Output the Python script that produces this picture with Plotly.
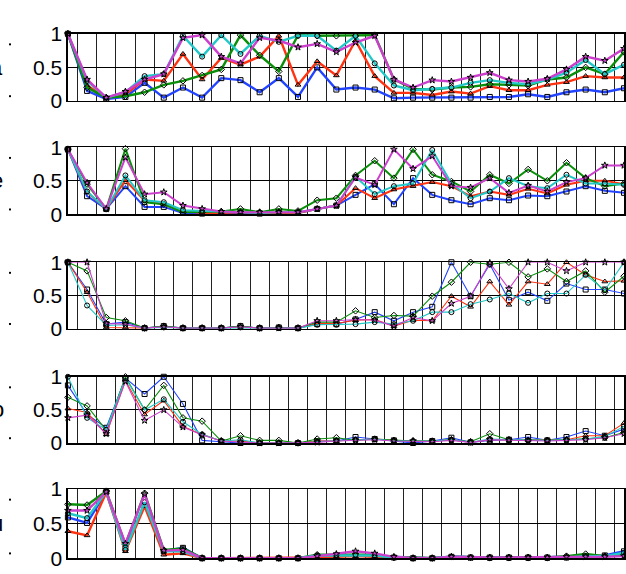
import plotly.graph_objects as go

W, H = 626, 574
x = list(range(1, 31))
panel_labels = ["a", "e", "i", "o", "u"]
y_tick_vals = [0, 0.5, 1]
y_tick_text = ["0", "0.5", "1"]
grid_x = [k + 0.5 for k in range(1, 30)]

# ---- panel 1 (a)
a_blue = [1.0, 0.15, 0.03, 0.06, 0.27, 0.05, 0.2, 0.05, 0.34, 0.31, 0.13, 0.34, 0.06, 0.5, 0.17, 0.2, 0.17, 0.04, 0.05, 0.05, 0.05, 0.05, 0.06, 0.06, 0.1, 0.06, 0.13, 0.17, 0.13, 0.19]
a_red = [1.0, 0.23, 0.05, 0.1, 0.32, 0.3, 0.7, 0.32, 0.64, 0.54, 0.66, 0.97, 0.24, 0.59, 0.38, 0.9, 0.37, 0.12, 0.12, 0.09, 0.14, 0.11, 0.22, 0.16, 0.16, 0.24, 0.28, 0.37, 0.35, 0.35]
a_green = [1.0, 0.2, 0.05, 0.07, 0.13, 0.24, 0.3, 0.38, 0.47, 0.98, 0.68, 0.44, 0.98, 0.97, 0.97, 0.97, 0.98, 0.32, 0.18, 0.17, 0.2, 0.21, 0.25, 0.24, 0.23, 0.32, 0.35, 0.5, 0.4, 0.73]
a_cyan = [1.0, 0.3, 0.05, 0.13, 0.37, 0.4, 0.97, 0.66, 0.98, 0.7, 0.97, 0.88, 0.97, 0.97, 0.75, 0.97, 0.56, 0.23, 0.16, 0.18, 0.2, 0.27, 0.31, 0.27, 0.25, 0.32, 0.42, 0.61, 0.4, 0.54]
a_magenta = [1.0, 0.32, 0.05, 0.14, 0.32, 0.4, 0.94, 0.98, 0.66, 0.56, 0.94, 0.9, 0.8, 0.85, 0.73, 0.87, 0.97, 0.32, 0.2, 0.31, 0.29, 0.35, 0.42, 0.31, 0.29, 0.33, 0.47, 0.66, 0.6, 0.78]

# ---- panel 2 (e)
e_blue = [0.97, 0.27, 0.08, 0.42, 0.11, 0.11, 0.02, 0.01, 0.02, 0.02, 0.01, 0.02, 0.02, 0.08, 0.13, 0.29, 0.45, 0.15, 0.54, 0.29, 0.21, 0.15, 0.24, 0.21, 0.28, 0.27, 0.34, 0.42, 0.35, 0.32]
e_red = [0.97, 0.33, 0.08, 0.51, 0.2, 0.15, 0.05, 0.02, 0.02, 0.03, 0.02, 0.02, 0.02, 0.08, 0.13, 0.39, 0.24, 0.37, 0.42, 0.48, 0.42, 0.27, 0.34, 0.29, 0.38, 0.31, 0.44, 0.5, 0.5, 0.45]
e_green = [0.97, 0.45, 0.08, 0.98, 0.18, 0.15, 0.03, 0.03, 0.04, 0.08, 0.03, 0.08, 0.05, 0.21, 0.24, 0.58, 0.8, 0.54, 0.97, 0.59, 0.49, 0.34, 0.59, 0.46, 0.67, 0.5, 0.77, 0.54, 0.42, 0.46]
e_cyan = [0.97, 0.34, 0.08, 0.58, 0.21, 0.18, 0.06, 0.05, 0.03, 0.03, 0.02, 0.03, 0.03, 0.08, 0.13, 0.56, 0.3, 0.42, 0.46, 0.96, 0.46, 0.24, 0.34, 0.54, 0.42, 0.39, 0.59, 0.46, 0.46, 0.44]
e_magenta = [0.97, 0.47, 0.08, 0.85, 0.3, 0.33, 0.13, 0.08, 0.04, 0.03, 0.03, 0.03, 0.03, 0.08, 0.13, 0.55, 0.44, 0.97, 0.68, 0.87, 0.42, 0.4, 0.54, 0.32, 0.43, 0.34, 0.48, 0.54, 0.73, 0.73]

# ---- panel 3 (i)
i_blue = [1.0, 0.59, 0.07, 0.1, 0.01, 0.04, 0.01, 0.01, 0.01, 0.04, 0.01, 0.02, 0.01, 0.07, 0.07, 0.14, 0.25, 0.12, 0.25, 0.33, 1.0, 0.49, 0.97, 0.43, 0.55, 0.42, 0.68, 0.59, 0.59, 0.53]
i_red = [1.0, 0.55, 0.02, 0.02, 0.01, 0.03, 0.01, 0.01, 0.01, 0.03, 0.01, 0.01, 0.01, 0.08, 0.08, 0.13, 0.14, 0.04, 0.13, 0.12, 0.49, 0.33, 0.71, 0.36, 0.71, 0.67, 1.0, 0.81, 0.71, 0.72]
i_green = [1.0, 0.87, 0.17, 0.12, 0.01, 0.04, 0.01, 0.01, 0.01, 0.04, 0.01, 0.02, 0.01, 0.1, 0.1, 0.27, 0.17, 0.2, 0.19, 0.49, 0.7, 1.0, 0.97, 1.0, 0.78, 0.9, 0.71, 0.87, 0.55, 0.79]
i_cyan = [1.0, 0.35, 0.05, 0.06, 0.01, 0.02, 0.01, 0.01, 0.01, 0.02, 0.01, 0.01, 0.01, 0.06, 0.06, 0.07, 0.1, 0.07, 0.12, 0.25, 0.25, 0.37, 0.44, 0.53, 0.39, 0.53, 0.53, 0.81, 0.58, 1.0]
i_magenta = [1.0, 1.0, 0.08, 0.07, 0.01, 0.03, 0.01, 0.01, 0.01, 0.03, 0.01, 0.01, 0.01, 0.12, 0.12, 0.14, 0.13, 0.04, 0.17, 0.12, 0.38, 0.49, 0.99, 0.6, 1.0, 1.0, 0.87, 1.0, 1.0, 1.0]

# ---- panel 4 (o)
o_blue = [0.87, 0.43, 0.23, 0.98, 0.74, 1.0, 0.59, 0.04, 0.02, 0.0, 0.0, 0.0, 0.0, 0.03, 0.03, 0.09, 0.06, 0.04, 0.0, 0.03, 0.08, 0.01, 0.04, 0.05, 0.09, 0.04, 0.09, 0.18, 0.11, 0.21]
o_red = [0.52, 0.46, 0.13, 0.94, 0.43, 0.64, 0.25, 0.13, 0.03, 0.03, 0.0, 0.0, 0.0, 0.03, 0.03, 0.05, 0.06, 0.04, 0.03, 0.03, 0.05, 0.01, 0.05, 0.05, 0.04, 0.04, 0.05, 0.11, 0.11, 0.3]
o_green = [0.69, 0.56, 0.19, 1.0, 0.5, 0.87, 0.38, 0.33, 0.03, 0.11, 0.04, 0.04, 0.0, 0.06, 0.08, 0.04, 0.06, 0.04, 0.03, 0.03, 0.05, 0.02, 0.14, 0.05, 0.04, 0.04, 0.05, 0.06, 0.08, 0.16]
o_cyan = [1.0, 0.38, 0.2, 0.98, 0.5, 0.66, 0.32, 0.13, 0.03, 0.05, 0.0, 0.0, 0.0, 0.02, 0.03, 0.05, 0.06, 0.03, 0.03, 0.03, 0.05, 0.01, 0.06, 0.05, 0.04, 0.04, 0.05, 0.06, 0.1, 0.25]
o_magenta = [0.38, 0.42, 0.14, 0.93, 0.34, 0.5, 0.24, 0.12, 0.03, 0.01, 0.0, 0.0, 0.0, 0.01, 0.03, 0.04, 0.05, 0.03, 0.03, 0.02, 0.04, 0.01, 0.05, 0.04, 0.03, 0.03, 0.04, 0.05, 0.08, 0.14]

# ---- panel 5 (u)
u_blue = [0.59, 0.51, 0.96, 0.14, 0.77, 0.1, 0.15, 0.0, 0.0, 0.0, 0.0, 0.0, 0.0, 0.02, 0.04, 0.04, 0.03, 0.01, 0.0, 0.0, 0.02, 0.01, 0.01, 0.01, 0.01, 0.01, 0.01, 0.02, 0.04, 0.1]
u_red = [0.39, 0.33, 0.95, 0.1, 0.75, 0.05, 0.07, 0.0, 0.0, 0.0, 0.0, 0.0, 0.0, 0.01, 0.02, 0.03, 0.02, 0.01, 0.0, 0.0, 0.01, 0.0, 0.0, 0.0, 0.0, 0.0, 0.01, 0.02, 0.03, 0.04]
u_green = [0.78, 0.77, 0.97, 0.2, 0.94, 0.12, 0.14, 0.0, 0.0, 0.0, 0.0, 0.0, 0.0, 0.05, 0.05, 0.06, 0.05, 0.01, 0.0, 0.0, 0.02, 0.01, 0.01, 0.01, 0.01, 0.01, 0.03, 0.06, 0.03, 0.05]
u_cyan = [0.65, 0.58, 0.96, 0.12, 0.81, 0.1, 0.1, 0.0, 0.0, 0.0, 0.0, 0.0, 0.0, 0.04, 0.04, 0.05, 0.04, 0.01, 0.0, 0.0, 0.02, 0.01, 0.0, 0.0, 0.0, 0.0, 0.01, 0.03, 0.03, 0.08]
u_magenta = [0.69, 0.69, 0.96, 0.21, 0.93, 0.11, 0.12, 0.0, 0.0, 0.0, 0.0, 0.0, 0.0, 0.03, 0.06, 0.1, 0.07, 0.02, 0.0, 0.0, 0.02, 0.01, 0.01, 0.01, 0.01, 0.01, 0.02, 0.02, 0.02, 0.03]

panels = [
    [a_blue, a_red, a_green, a_cyan, a_magenta],
    [e_blue, e_red, e_green, e_cyan, e_magenta],
    [i_blue, i_red, i_green, i_cyan, i_magenta],
    [o_blue, o_red, o_green, o_cyan, o_magenta],
    [u_blue, u_red, u_green, u_cyan, u_magenta],
]
colors = ["#2244ff", "#ff3311", "#0a8f0a", "#22c8c8", "#cc3fcc"]
symbols = ["square-open", "triangle-up-open", "diamond-open", "circle-open", "star-open"]
line_widths = [2.4, 2.0, 1.1, 1.1, 2.4]

# pixel geometry of panels (top, bottom)
panel_px = [(22.7, 92.7), (141, 210.7), (260.7, 330), (380, 449), (497, 569)]
x_left, x_right = 68, 625

def py(v):
    return (H - v) / H

fig = go.Figure()
for p, series in enumerate(panels):
    xa = "x" if p == 0 else f"x{p+1}"
    ya = "y" if p == 0 else f"y{p+1}"
    for s, vals in enumerate(series):
        fig.add_trace(go.Scatter(
            x=x, y=vals, xaxis=xa, yaxis=ya, mode="lines+markers",
            line=dict(color=colors[s], width=line_widths[p]),
            marker=dict(symbol=symbols[s], size=5, color="black",
                        line=dict(width=1, color="black")),
            showlegend=False, cliponaxis=False,
        ))

layout = dict(
    width=W, height=H, margin=dict(l=0, r=0, t=0, b=0),
    paper_bgcolor="white", plot_bgcolor="white",
    font=dict(family="Liberation Sans, Arial, sans-serif", color="black"),
)
for p, (top, bot) in enumerate(panel_px):
    xk = "xaxis" if p == 0 else f"xaxis{p+1}"
    yk = "yaxis" if p == 0 else f"yaxis{p+1}"
    ya = "y" if p == 0 else f"y{p+1}"
    xa = "x" if p == 0 else f"x{p+1}"
    layout[xk] = dict(
        domain=[x_left / W, x_right / W], anchor=ya, range=[1, 30],
        tickvals=grid_x, showticklabels=False, ticks="",
        showgrid=True, gridcolor="#222222", gridwidth=1,
        showline=True, linecolor="black", linewidth=1.5, mirror=True,
        zeroline=False, fixedrange=True,
    )
    layout[yk] = dict(
        domain=[py(bot), py(top)], anchor=xa, range=[0, 1],
        tickvals=y_tick_vals, ticktext=y_tick_text,
        tickfont=dict(size=21, family="Liberation Sans, Arial, sans-serif"),
        ticks="", showgrid=True, gridcolor="black", gridwidth=1,
        showline=True, linecolor="black", linewidth=1.5, mirror=True,
        zeroline=False, fixedrange=True,
    )
fig.update_layout(**layout)

# truncated vowel labels and dots at the left edge
label_right_px = [5, 5, -3, 6, 5]
anns = []
shapes = []
for p, (top, bot) in enumerate(panel_px):
    mid = (top + bot) / 2
    anns.append(dict(
        text=panel_labels[p], xref="paper", yref="paper",
        x=label_right_px[p] / W, y=py(mid),
        showarrow=False, xanchor="right", yanchor="middle",
        font=dict(size=22, family="Liberation Sans, Arial, sans-serif"),
    ))
    for dy in (top + 11, bot - 5):
        shapes.append(dict(type="rect", xref="paper", yref="paper",
                           x0=9 / W, x1=11 / W, y0=py(dy + 1), y1=py(dy - 1),
                           fillcolor="black", line=dict(width=0)))
fig.update_layout(annotations=anns, shapes=shapes)

fig.write_html(
    "out.html",
    config={"displayModeBar": False, "staticPlot": True},
    post_script="document.body.style.margin='0';document.body.style.padding='0';document.body.style.overflow='hidden';",
)
